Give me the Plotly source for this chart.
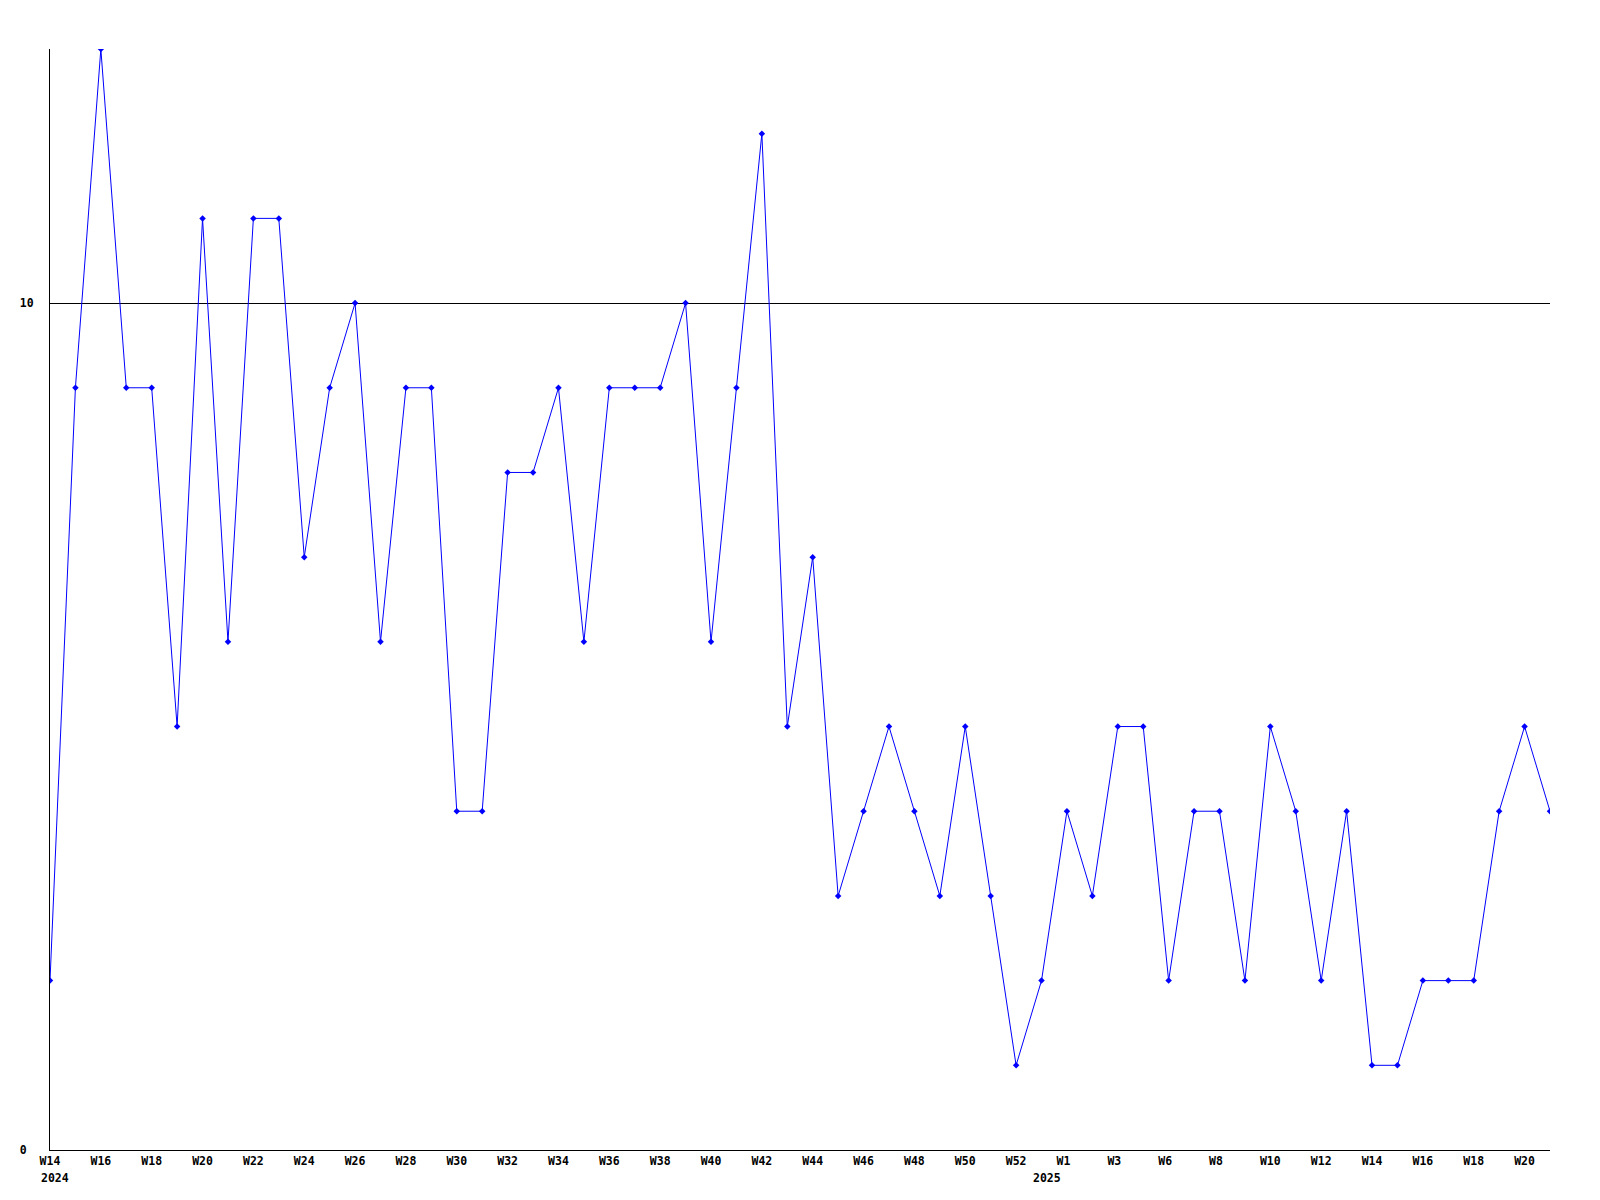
import plotly.graph_objects as go

# Weekly values, one per week starting W14 2024
values = [2, 9, 13, 9, 9, 5, 11, 6, 11, 11,
          7, 9, 10, 6, 9, 9, 4, 4, 8, 8,
          9, 6, 9, 9, 9, 10, 6, 9, 12, 5,
          7, 3, 4, 5, 4, 3, 5, 3, 1,
          2, 4, 3, 5, 5, 2, 4, 4, 2, 5,
          4, 2, 4, 1, 1, 2, 2, 2, 4, 5, 4]

# x-axis tick labels as shown (every other week)
tick_labels = ["W14", "W16", "W18", "W20", "W22", "W24", "W26", "W28", "W30", "W32",
               "W34", "W36", "W38", "W40", "W42", "W44", "W46", "W48", "W50", "W52",
               "W1", "W3", "W6", "W8", "W10", "W12", "W14", "W16", "W18", "W20"]
tick_index = list(range(0, 39, 2)) + list(range(40, 60, 2))

year_labels = ["2024", "2025"]
year_index = [0, 39]

y_ticks = [0, 10]
y_ticktext = ["0\u00a0", "10"]

FONT = dict(family="DejaVu Sans Mono", size=11.5, color="black")

x = list(range(len(values)))

fig = go.Figure()
fig.add_trace(go.Scatter(
    x=x, y=values, mode="lines+markers",
    line=dict(color="#0000FF", width=1),
    marker=dict(symbol="diamond", size=5, color="#0000FF"),
    hoverinfo="skip",
))

for lbl, idx in zip(year_labels, year_index):
    fig.add_annotation(x=idx, y=0, xref="x", yref="paper", text="<b>%s</b>" % lbl,
                       showarrow=False, xanchor="left", yanchor="top",
                       xshift=-11, yshift=-19, font=FONT)

fig.update_layout(
    width=1600, height=1200,
    margin=dict(l=50, r=50, t=49, b=50),
    paper_bgcolor="white", plot_bgcolor="white",
    showlegend=False,
    font=FONT,
)
fig.update_xaxes(
    range=[0, len(values) - 1], showgrid=False, zeroline=False,
    showline=True, linecolor="black", linewidth=1,
    tickmode="array", tickvals=tick_index,
    ticktext=["<b>%s</b>" % (t if len(t) >= 3 else t + "\u00a0") for t in tick_labels],
    ticks="", tickangle=0, tickfont=FONT,
)
fig.update_yaxes(
    range=[0, 13], showgrid=True, gridcolor="black", gridwidth=1,
    zeroline=False, showline=True, linecolor="black", linewidth=1,
    tickmode="array", tickvals=y_ticks,
    ticktext=["<b>%s</b>" % t for t in y_ticktext],
    ticks="", tickfont=FONT, ticklabelstandoff=13,
)

fig.write_html("out.html", config={"displayModeBar": False},
               post_script="document.body.style.margin='0';")
